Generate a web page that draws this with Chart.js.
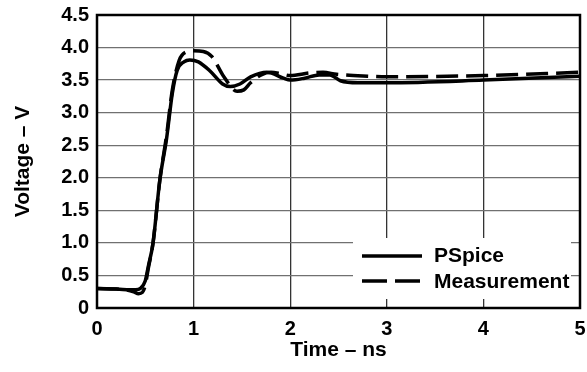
<!DOCTYPE html>
<html lang="en">
<head>
    <meta charset="UTF-8">
    <title>PSpice vs Measurement</title>
    <script src="https://cdn.jsdelivr.net/npm/chart.js"></script>
    <style>
        body { margin: 0; background: white; }
        canvas { display: block; }
    </style>
</head>
<body>
    <canvas id="voltChart" width="587" height="372"></canvas>
    <script>
        // time (ns) and voltage (V)
        const pspiceTime = [0, 0.2, 0.4, 0.45, 0.5, 0.53, 0.58, 0.65, 0.72, 0.78, 0.83, 0.9, 0.96, 1.05, 1.17, 1.3, 1.38, 1.48, 1.59, 1.76, 1.93, 2.0, 2.15, 2.3, 2.41, 2.52, 2.7, 3.0, 4.0, 5.0];
        const pspiceVolt = [0.30, 0.29, 0.28, 0.30, 0.42, 0.63, 1.0, 1.96, 2.6, 3.3, 3.65, 3.78, 3.81, 3.78, 3.64, 3.44, 3.40, 3.44, 3.55, 3.62, 3.53, 3.50, 3.53, 3.58, 3.58, 3.49, 3.46, 3.46, 3.50, 3.56];

        const measTime = [0, 0.2, 0.3, 0.38, 0.43, 0.47, 0.5, 0.53, 0.58, 0.65, 0.72, 0.78, 0.85, 0.92, 1.0, 1.1, 1.19, 1.31, 1.45, 1.52, 1.59, 1.7, 1.8, 1.9, 2.0, 2.2, 2.34, 2.48, 2.8, 3.0, 4.0, 5.0];
        const measVolt = [0.30, 0.29, 0.28, 0.25, 0.22, 0.24, 0.35, 0.6, 1.0, 1.96, 2.65, 3.35, 3.8, 3.93, 3.95, 3.94, 3.86, 3.56, 3.33, 3.35, 3.46, 3.58, 3.62, 3.6, 3.57, 3.61, 3.62, 3.59, 3.56, 3.55, 3.57, 3.62];

        const yTickLabels = ['0', '0.5', '1.0', '1.5', '2.0', '2.5', '3.0', '3.5', '4.0', '4.5'];
        const xTickLabels = ['0', '1', '2', '3', '4', '5'];
        const seriesNames = ['PSpice', 'Measurement'];

        const FONT = "'Liberation Sans', Arial, Helvetica, sans-serif";

        function toPoints(xs, ys) {
            return xs.map((x, i) => ({ x: x, y: ys[i] }));
        }

        // frame round the plot + legend box sitting inside the plot
        const framePlugin = {
            id: 'frame',
            afterDatasetsDraw(chart) {
                const ctx = chart.ctx;
                const a = chart.chartArea;
                ctx.save();
                // legend
                ctx.fillStyle = 'white';
                ctx.fillRect(353, 238, 218, 61);
                ctx.strokeStyle = 'black';
                ctx.lineWidth = 3.5;
                ctx.beginPath();
                ctx.moveTo(362, 256);
                ctx.lineTo(422, 256);
                ctx.stroke();
                ctx.setLineDash([25, 8]);
                ctx.beginPath();
                ctx.moveTo(362, 281);
                ctx.lineTo(422, 281);
                ctx.stroke();
                ctx.setLineDash([]);
                ctx.fillStyle = 'black';
                ctx.font = 'bold 21px ' + FONT;
                ctx.textBaseline = 'middle';
                ctx.fillText(seriesNames[0], 434, 256);
                ctx.fillText(seriesNames[1], 434, 282);
                // box
                ctx.lineWidth = 2.5;
                ctx.strokeRect(a.left, a.top, a.right - a.left, a.bottom - a.top);
                ctx.restore();
            }
        };

        new Chart(document.getElementById('voltChart'), {
            type: 'line',
            data: {
                datasets: [
                    {
                        label: seriesNames[0],
                        data: toPoints(pspiceTime, pspiceVolt),
                        borderColor: 'black',
                        borderWidth: 3.5,
                        pointRadius: 0,
                        cubicInterpolationMode: 'monotone',
                        fill: false
                    },
                    {
                        label: seriesNames[1],
                        data: toPoints(measTime, measVolt),
                        borderColor: 'black',
                        borderWidth: 3.5,
                        borderDash: [22, 8],
                        pointRadius: 0,
                        cubicInterpolationMode: 'monotone',
                        fill: false
                    }
                ]
            },
            options: {
                responsive: false,
                animation: false,
                layout: { padding: { top: 15, right: 7, left: 0, bottom: 0 } },
                plugins: {
                    legend: { display: false },
                    tooltip: { enabled: false }
                },
                scales: {
                    x: {
                        type: 'linear',
                        min: 0,
                        max: 5,
                        afterFit(scale) { scale.height = 64; scale.paddingRight = 0; },
                        grid: { color: '#333', lineWidth: 1.3, drawTicks: false },
                        border: { display: false },
                        ticks: {
                            stepSize: 1,
                            padding: 9,
                            color: 'black',
                            font: { family: FONT, size: 20, weight: 'bold' },
                            callback: (v) => xTickLabels[v]
                        },
                        title: {
                            display: true,
                            text: 'Time – ns',
                            color: 'black',
                            font: { family: FONT, size: 21, weight: 'bold' },
                            padding: { top: 0, bottom: 9 }
                        }
                    },
                    y: {
                        min: 0,
                        max: 4.5,
                        afterFit(scale) { scale.width = 97; scale.paddingTop = 0; scale.paddingBottom = 0; },
                        grid: { color: '#707070', lineWidth: 1.3, drawTicks: false },
                        border: { display: false },
                        ticks: {
                            stepSize: 0.5,
                            padding: 8,
                            color: 'black',
                            font: { family: FONT, size: 20, weight: 'bold' },
                            callback: (v) => yTickLabels[Math.round(v * 2)]
                        },
                        title: {
                            display: true,
                            text: 'Voltage – V',
                            color: 'black',
                            font: { family: FONT, size: 21, weight: 'bold' },
                            padding: { top: 11, bottom: 0 }
                        }
                    }
                }
            },
            plugins: [framePlugin]
        });
    </script>
</body>
</html>
